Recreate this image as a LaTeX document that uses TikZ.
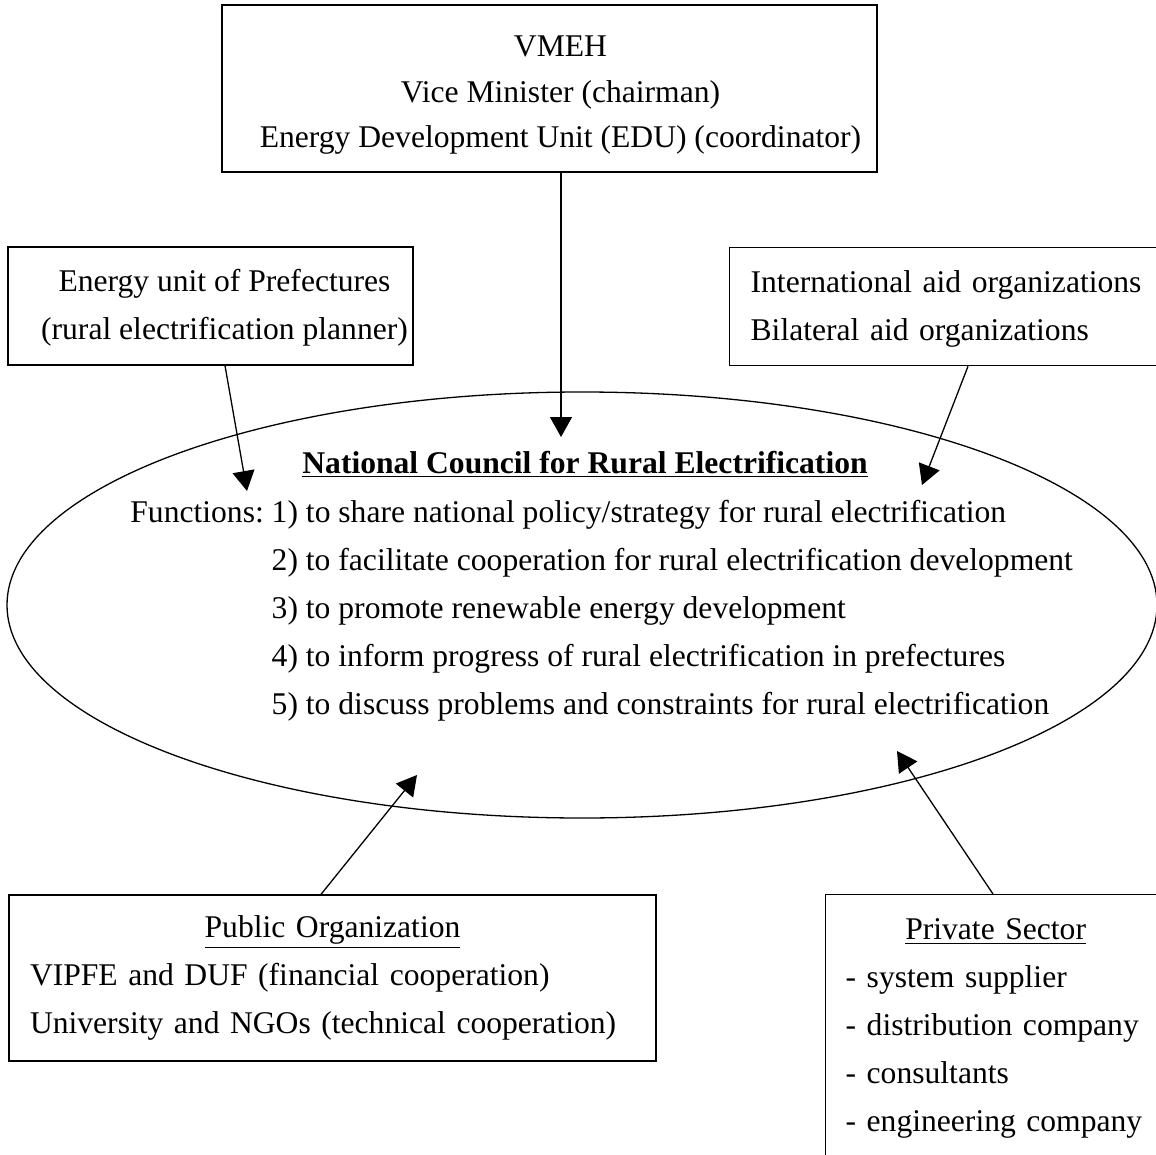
\documentclass[tikz,border=0pt]{standalone}
\usepackage{fontspec}
\setmainfont{Liberation Serif}
\usetikzlibrary{positioning,arrows.meta,shapes.geometric}

\begin{document}
\begin{tikzpicture}[x=0.5pt,y=-0.5pt,
  box/.style={draw,line width=0.65pt,font=\fontsize{15.8}{24}\selectfont},
  link/.style={line width=0.65pt,-{Triangle[length=10pt,width=11pt]}}]
\useasboundingbox (0,0) rectangle (1156,1155);
\clip (0,0) rectangle (1156,1155);

% Upper boxes
\node[box,align=center,inner xsep=0pt,minimum width=327.5pt,minimum height=83.5pt,
  font=\fontsize{15.8}{22.75}\selectfont] (vmeh) at (549.5,88.5)
  {\hspace*{11pt}\rule{0pt}{17pt}VMEH\\
  \hspace*{11pt}Vice Minister (chairman)\\
  \hspace*{11pt}Energy Development Unit (EDU) (coordinator)};
\node[box,align=center,inner xsep=0pt,minimum width=202.5pt,minimum height=59pt] (pref) at (210.5,306)
  {\hspace*{14pt}\rule{0pt}{13pt}Energy unit of Prefectures\\
  \hspace*{14pt}(rural electrification planner)};
\node[box,anchor=north west,align=left,text width=210pt,inner xsep=10.5pt,
  minimum height=59pt] (aid) at (729,247)
  {\rule{0pt}{13pt}International aid organizations\\Bilateral aid organizations};

% Council
\node[draw,ellipse,line width=0.65pt,minimum width=575pt,minimum height=213pt] (council) at (582,605) {};
\node[font=\fontsize{15.8}{24}\selectfont\bfseries,anchor=base,inner sep=0pt] (title) at (585,473)
  {\underline{National Council for Rural Electrification}};
\node[font=\fontsize{15.8}{24}\selectfont,anchor=base west,inner sep=0pt] (functions) at (130,522)
  {\begin{tabular}[t]{@{}l@{\ }l@{}}
  Functions: & 1) to share national policy/strategy for rural electrification\\
   & 2) to facilitate cooperation for rural electrification development\\
   & 3) to promote renewable energy development\\
   & 4) to inform progress of rural electrification in prefectures\\
   & 5) to discuss problems and constraints for rural electrification
  \end{tabular}};

% Lower boxes
\node[box,align=left,text width=302.5pt,inner xsep=10.5pt,minimum height=83pt] (public) at (332.5,978)
  {\makebox[\linewidth]{\underline{Public Organization}}\\
  VIPFE and DUF (financial cooperation)\\
  University and NGOs (technical cooperation)};
\node[box,anchor=north west,align=left,text width=150pt,inner xsep=10pt,inner ysep=12.2pt] (private) at (825,894)
  {\makebox[\linewidth]{\underline{Private Sector}}\\
  - system supplier\\
  - distribution company\\
  - consultants\\
  - engineering company\\
  \mbox{}};

% Arrow tips
\coordinate (vmehTip) at (561,437);
\coordinate (prefTip) at (247,491);
\coordinate (aidTip) at (922,485);
\coordinate (publicTip) at (417,775);
\coordinate (privateTip) at (897,751);

% Arrows
\draw[link] ([xshift=5.75pt]vmeh.south) -- (vmehTip);
\draw[link] ([xshift=7.25pt]pref.south) -- (prefTip);
\draw[link] ([xshift=119.5pt]aid.south west) -- (aidTip);
\draw[link] ([xshift=-5.75pt]public.north) -- (publicTip);
\draw[link] ([xshift=84pt]private.north west) -- (privateTip);
\end{tikzpicture}
\end{document}
